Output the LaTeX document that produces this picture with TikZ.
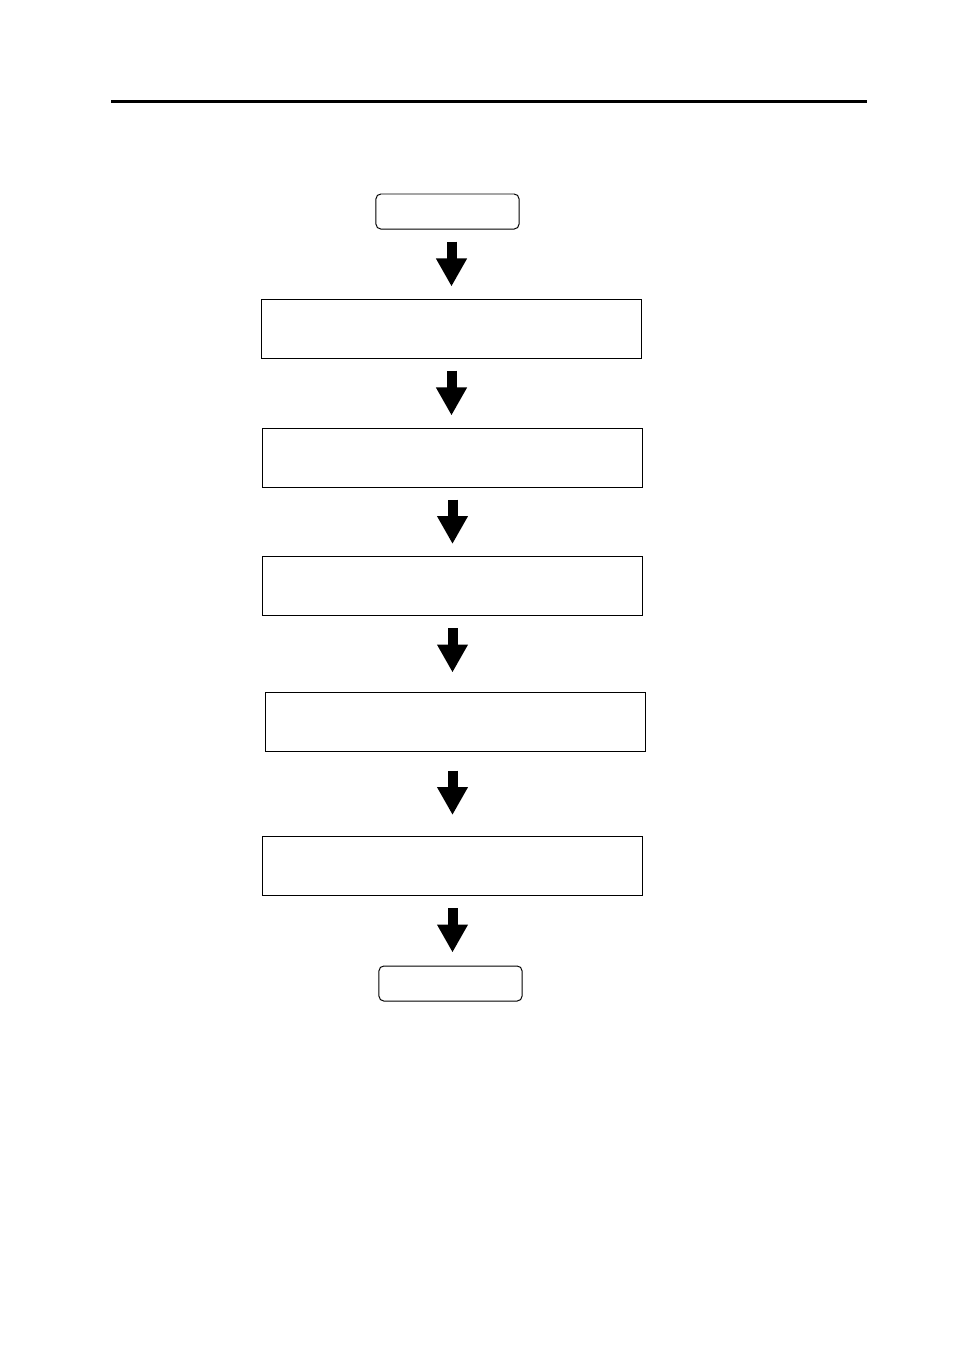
\documentclass[tikz,border=0pt]{standalone}
\usetikzlibrary{arrows.meta}

\begin{document}
\begin{tikzpicture}[x=0.025cm,y=-0.025cm,
	stepbox/.style={draw,line width=0.7pt,minimum width=9.475cm,minimum height=1.475cm,inner sep=0pt},
	terminal/.style={draw,line width=0.7pt,rounded corners=0.12cm,minimum width=3.575cm,minimum height=0.875cm,inner sep=0pt},
	fatarrow/.style={line width=0.25cm,-{Triangle[width=0.725cm,length=0.7cm]},shorten <=0.3cm,shorten >=0.3cm}]
	\useasboundingbox (0,0) rectangle (954,1351);
	\draw [line width=0.075cm] (111,101) -- (867,101);
	\node [terminal] (start) at (447.5,211.5) {};
	\node [stepbox] (box1) at (451.5,328.5) {};
	\node [stepbox] (box2) at (452.5,457.5) {};
	\node [stepbox] (box3) at (452.5,586) {};
	\node [stepbox] (box4) at (455.5,721.5) {};
	\node [stepbox] (box5) at (452.5,866) {};
	\node [terminal] (end) at (450.5,983.5) {};
	\draw [fatarrow] (start.south -| box1) -- (box1.north);
	\draw [fatarrow] (box1.south) -- (box1.south |- box2.north);
	\draw [fatarrow] (box2.south) -- (box3.north);
	\draw [fatarrow,shorten >=0.475cm] (box3.south) -- (box3.south |- box4.north);
	\draw [fatarrow,shorten <=0.475cm,shorten >=0.525cm] (box4.south -| box5) -- (box5.north);
	\draw [fatarrow,shorten >=0.325cm] (box5.south) -- (box5.south |- end.north);
\end{tikzpicture}
\end{document}
